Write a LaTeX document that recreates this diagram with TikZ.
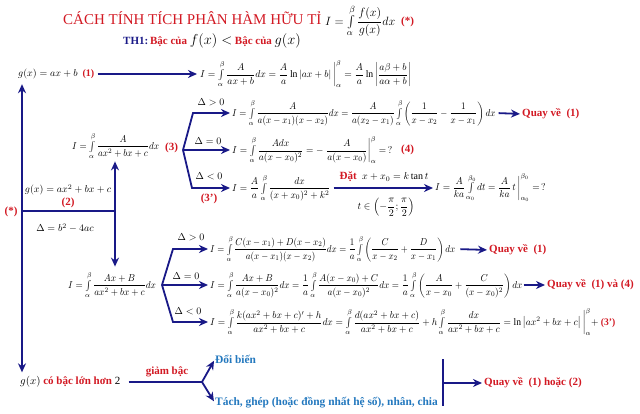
\documentclass[tikz,border=0pt]{standalone}
\usepackage{amsmath}
\usepackage{graphicx}
\usepackage{fontspec}
\setmainfont{Liberation Serif}
\usetikzlibrary{arrows.meta}
\definecolor{navy}{RGB}{25,25,135}
\definecolor{rd}{RGB}{210,25,35}
\definecolor{lb}{RGB}{35,120,190}
\newcommand{\II}{\int\limits_{\alpha}^{\beta}}
\newcommand{\sx}[2]{\scalebox{#1}[1]{#2}}
\tikzset{
 ln/.style={draw=navy,line width=1.8pt},
 arr/.style={ln,-{Stealth[length=9pt,width=8pt]}},
 fm/.style={inner sep=0pt,font=\fontsize{10}{12}\selectfont},
 lbl/.style={inner sep=0pt,font=\fontsize{11}{13}\selectfont},
 rl/.style={inner sep=0pt,text=rd,font=\fontsize{11}{13}\selectfont\bfseries},
 bl/.style={inner sep=0pt,text=lb,font=\fontsize{11.4}{13}\selectfont\bfseries},
}
\begin{document}
\begin{tikzpicture}[x=1pt,y=-1pt]
\useasboundingbox (0,0) rectangle (640,414);
% title
\node[anchor=west,inner sep=0pt,text=rd,font=\fontsize{15}{17}\selectfont] (title) at (63,18) {CÁCH TÍNH TÍCH PHÂN HÀM HỮU TỈ};
\node[inner sep=0pt,font=\fontsize{12.5}{14}\selectfont,anchor=west] (tf) at (325,21) {$I=\II\dfrac{f(x)}{g(x)}dx$};
\node[rl,anchor=west] (st) at (401,22) {(*)};
\node[lbl,anchor=west] (th) at (123,41) {\textbf{\textcolor{navy}{TH1:}\,\textcolor{rd}{Bậc của}} {\fontsize{13.5}{15}\selectfont$f(x)<$} \textbf{\textcolor{rd}{Bậc của}} {\fontsize{13.5}{15}\selectfont$g(x)$}};
% row 1
\node[fm,anchor=west] (g1) at (18,74) {$g(x)=ax+b$\ \ \textcolor{rd}{\textbf{(1)}}};
\node[fm,anchor=west] (f1) at (200,74) {\sx{0.97}{$I=\II\dfrac{A}{ax+b}dx=\dfrac{A}{a}\ln\left|ax+b\right|\bigg|_{\alpha}^{\beta}=\dfrac{A}{a}\ln\left|\dfrac{a\beta+b}{a\alpha+b}\right|$}};
\draw[arr,shorten <=3pt,shorten >=3pt] (g1) -- (f1);
% left spine
\coordinate (j) at (22,211);
\node[rl] (ls) at (11,212) {(*)};
\node[lbl,anchor=west] (g3) at (20,382) {$g(x)$ \textcolor{rd}{\textbf{có bậc lớn hơn}} 2};
\draw[arr,shorten >=5pt] (j) -- (j |- g1.south);
\draw[arr,shorten >=4pt] (j) -- (j |- g3.north);
\coordinate (k) at (115,211);
\draw[ln] (j) -- (k);
\node[fm] (g2) at (68,190) {$g(x)=ax^2+bx+c$};
\node[rl] (n2) at (68,203) {(2)};
\node[fm] (dl) at (65,228) {$\Delta=b^2-4ac$};
% formula (3)
\node[fm,anchor=west] (f3) at (72,146) {\sx{0.92}{$I=\II\dfrac{A}{ax^2+bx+c}dx$}};
\node[rl,anchor=west] (n3) at (165,148) {(3)};
\node[fm,anchor=west] (fB) at (68,285) {\sx{0.93}{$I=\II\dfrac{Ax+B}{ax^2+bx+c}dx$}};
\draw[arr,shorten >=2pt] (k) -- (k |- f3.south);
\draw[arr,shorten >=5pt] (k) -- (k |- fB.north);
% upper fork
\coordinate (u) at (183,150);
\node[fm,anchor=west] (a1) at (232,113) {\sx{0.91}{$I=\II\dfrac{A}{a(x-x_1)(x-x_2)}dx=\dfrac{A}{a(x_2-x_1)}\II\left(\dfrac{1}{x-x_2}-\dfrac{1}{x-x_1}\right)dx$}};
\node[fm,anchor=west] (a2) at (232,150) {\sx{0.95}{$I=\II\dfrac{Adx}{a(x-x_0)^2}=-\left.\dfrac{A}{a(x-x_0)}\right|_{\alpha}^{\beta}=\,?$}};
\node[rl,anchor=west] (n4) at (401,150) {(4)};
\node[fm,anchor=west] (a3) at (232,188) {\sx{0.95}{$I=\dfrac{A}{a}\II\dfrac{dx}{(x+x_0)^2+k^2}$}};
\node[fm,anchor=west] (r3) at (435,188) {\sx{0.95}{$I=\dfrac{A}{ka}\int\limits_{\alpha_0}^{\beta_0}dt=\dfrac{A}{ka}\,t\,\bigg|_{\alpha_0}^{\beta_0}=\,?$}};
\draw[arr,shorten >=2pt] (u) -- ++(10,-37) -- (a1.west);
\draw[arr,shorten >=2pt] (u) -- (a2.west);
\draw[arr,shorten >=2pt] (u) -- ++(9,38) -- (a3.west);
\node[fm] (d1) at (211,102) {$\Delta>0$};
\node[fm] (d2) at (208,141) {$\Delta=0$};
\node[fm] (d3) at (209,176) {$\Delta<0$};
\node[rl] (n3b) at (209,199) {(3’)};
\draw[arr,shorten <=3pt,shorten >=2pt] (a3.east) -- (r3.west);
\node[lbl] (dat) at (384,177) {\textcolor{rd}{\textbf{Đặt}}\ \ \fontsize{10}{12}\selectfont$x+x_0=k\tan t$};
\node[fm] (tin) at (386,207) {$t\in\left(-\dfrac{\pi}{2};\dfrac{\pi}{2}\right)$};
\node[rl,anchor=west] (q1) at (522,114) {Quay về\ \ (1)};
\draw[arr,shorten <=3pt,shorten >=2pt] (a1.east) -- (q1.west);
% lower fork
\coordinate (v) at (162,285);
\node[fm,anchor=west] (b1) at (210,249) {\sx{0.9}{$I=\II\dfrac{C(x-x_1)+D(x-x_2)}{a(x-x_1)(x-x_2)}dx=\dfrac{1}{a}\II\left(\dfrac{C}{x-x_2}+\dfrac{D}{x-x_1}\right)dx$}};
\node[fm,anchor=west] (b2) at (210,285) {\sx{0.925}{$I=\II\dfrac{Ax+B}{a(x-x_0)^2}dx=\dfrac{1}{a}\II\dfrac{A(x-x_0)+C}{a(x-x_0)^2}dx=\dfrac{1}{a}\II\left(\dfrac{A}{x-x_0}+\dfrac{C}{(x-x_0)^2}\right)dx$}};
\node[fm,anchor=west] (b3) at (210,322) {\sx{0.955}{$I=\II\dfrac{k(ax^2+bx+c)'+h}{ax^2+bx+c}dx=\II\dfrac{d(ax^2+bx+c)}{ax^2+bx+c}+h\II\dfrac{dx}{ax^2+bx+c}=\ln\left|ax^2+bx+c\right|\bigg|_{\alpha}^{\beta}+$ \textcolor{rd}{\textbf{(3’)}}}};
\draw[arr,shorten >=2pt] (v) -- ++(11,-36) -- (b1.west);
\draw[arr,shorten >=2pt] (v) -- (b2.west);
\draw[arr,shorten >=2pt] (v) -- ++(11,37) -- (b3.west);
\node[fm] (e1) at (191,237) {$\Delta>0$};
\node[fm] (e2) at (186,276) {$\Delta=0$};
\node[fm] (e3) at (188,311) {$\Delta<0$};
\node[rl,anchor=west] (q2) at (489,250) {Quay về\ \ (1)};
\node[rl,anchor=west] (q3) at (547,285) {Quay về\ \ (1) và (4)};
\draw[arr,shorten <=5pt,shorten >=2pt] (b1.east) -- (q2.west);
\draw[arr,shorten <=1pt,shorten >=2pt] (b2.east) -- (q3.west);
% bottom
\coordinate (w) at (202,382);
\draw[ln,shorten <=8pt] (g3.east) -- (w);
\node[rl] (gb) at (167,372) {giảm bậc};
\node[bl,anchor=west] (db) at (215,359) {Đổi biến};
\node[bl,anchor=west] (tg) at (215,403) {Tách, ghép (hoặc đồng nhất hệ số), nhân, chia};
\draw[arr,shorten >=2pt] (w) -- (db.west);
\draw[arr,shorten >=2pt] (w) -- (tg.west);
\coordinate (bt) at (443,359);
\coordinate (bb) at (443,406);
\coordinate (bm) at (443,383);
\draw[ln] (bt) -- (bb);
\node[rl,anchor=west] (q4) at (484,383) {Quay về\ \ (1) hoặc (2)};
\draw[arr,shorten >=2pt] (bm) -- (q4.west);
\end{tikzpicture}
\end{document}
